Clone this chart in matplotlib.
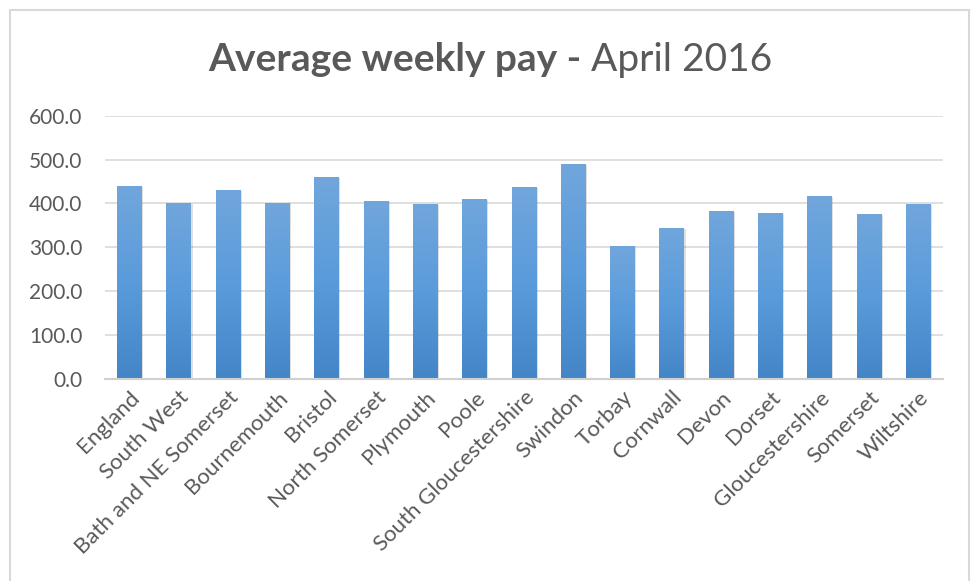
import numpy as np
import matplotlib
matplotlib.use("Agg")
import matplotlib.pyplot as plt
from matplotlib.patches import Rectangle
from matplotlib.colors import LinearSegmentedColormap

# datos del grafico
areas = ["England", "South West", "Bath and NE Somerset", "Bournemouth", "Bristol",
         "North Somerset", "Plymouth", "Poole", "South Gloucestershire", "Swindon",
         "Torbay", "Cornwall", "Devon", "Dorset", "Gloucestershire", "Somerset", "Wiltshire"]
pago_semanal = [439.0, 401.6, 431.0, 402.0, 460.0, 404.7, 398.6, 410.8, 436.6, 489.7,
                303.0, 344.0, 382.0, 378.0, 416.9, 375.9, 398.6]
marcas_y = [0, 100, 200, 300, 400, 500, 600]

plt.rcParams['font.family'] = ['Lato', 'DejaVu Sans']
gris = '#595959'

fig = plt.figure(figsize=(9.71, 5.81), dpi=100)
ax = fig.add_axes([0.108, 0.3477, 0.863, 0.4532])

x = np.arange(len(areas))
barras = ax.bar(x, pago_semanal, width=0.5, color='#5B9BD5', zorder=2)

# degradado vertical en cada barra
cmap = LinearSegmentedColormap.from_list('azul', ['#4385C7', '#5A9BDB', '#71A6DC'])
grad = np.linspace(0, 1, 256).reshape(-1, 1)
for b in barras:
    bx, by = b.get_x(), b.get_y()
    w, h = b.get_width(), b.get_height()
    # sombra suave
    ax.add_patch(Rectangle((bx + 0.03, by), w, h - 2, color='#000000', alpha=0.12,
                           zorder=1.5, lw=0))
    im = ax.imshow(grad, cmap=cmap, origin='lower', aspect='auto',
                   extent=(bx, bx + w, by, by + h), zorder=2.5)
    im.set_clip_path(b)

ax.set_xlim(-0.5, len(areas) - 0.5)
ax.set_ylim(0, 600)
ax.set_yticks(marcas_y)
ax.set_yticklabels([f"{v:.1f}" for v in marcas_y], fontsize=15, color=gris)
ax.set_xticks(x)
ax.set_xticklabels(areas, rotation=45, ha='right', rotation_mode='anchor',
                   fontsize=16, color=gris)
ax.tick_params(axis='y', length=0, pad=16)
ax.tick_params(axis='x', length=0, pad=6)
ax.yaxis.grid(True, color='#D9D9D9', lw=1.2, zorder=0)
ax.set_axisbelow(True)
for s in ['top', 'right', 'left']:
    ax.spines[s].set_visible(False)
ax.spines['bottom'].set_color('#D0D0D0')
ax.spines['bottom'].set_linewidth(1.5)

# borde del area del grafico
fig.patches.append(Rectangle((10 / 971, -0.05), 959 / 971, 1.05 - 10 / 581,
                             transform=fig.transFigure, fill=False,
                             edgecolor='#D9D9D9', lw=1.5))

# titulo en dos partes: negrita + normal
t1 = fig.text(0, 0.897, "Average weekly pay -", fontsize=28, fontweight='bold',
              color=gris, va='center', ha='left')
t2 = fig.text(0, 0.897, " April 2016", fontsize=28, color=gris, va='center', ha='left')
fig.canvas.draw()
r = fig.canvas.get_renderer()
w1 = t1.get_window_extent(r).width
w2 = t2.get_window_extent(r).width
x0 = (490 - (w1 + w2) / 2)
t1.set_x(x0 / 971)
t2.set_x((x0 + w1) / 971)

fig.savefig('out.png', dpi=100)
